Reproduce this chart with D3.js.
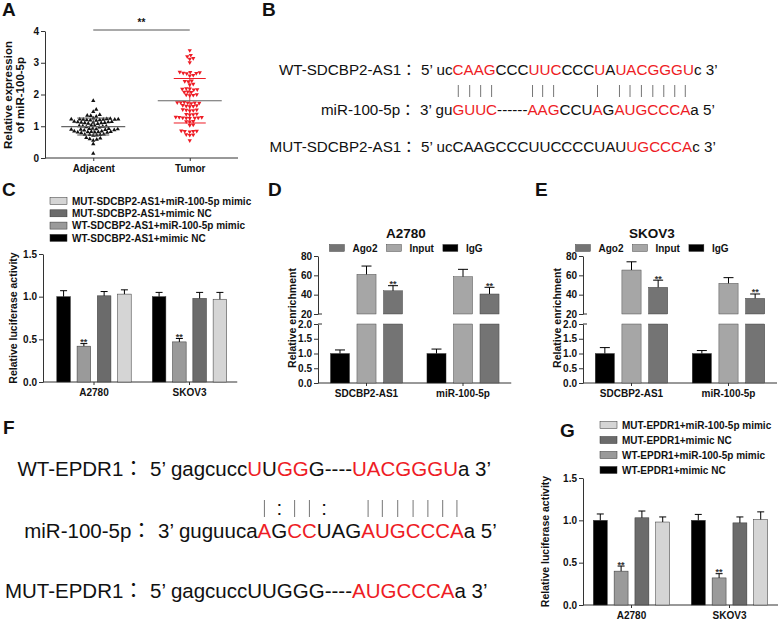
<!DOCTYPE html>
<html>
<head>
<meta charset="utf-8">
<script src="https://cdn.jsdelivr.net/npm/d3@7"></script>
<style>
  body { margin: 0; background: #fff; }
  svg { display: block; font-family: 'Liberation Sans', 'Noto Sans CJK JP', Arial, sans-serif; }
</style>
</head>
<body>
<svg id="fig" width="778" height="621"></svg>
<script>
// ---------- data ----------
const groupsA = ["Adjacent", "Tumor"];
const adjacentExpr = [1.80, 1.53, 1.46, 1.36, 1.34, 1.31, 1.33,
  1.22, 1.21, 1.23, 1.20, 1.22, 1.19, 1.21, 1.24, 1.20, 1.18, 1.22, 1.21, 1.25,
  1.13, 1.12, 1.10, 1.14, 1.11, 1.09, 1.12, 1.13, 1.10, 1.08, 1.15,
  1.02, 1.00, 0.99, 1.01, 1.03, 0.98, 1.00, 0.97,
  0.92, 0.90, 0.91, 0.89, 0.93, 0.88, 0.90, 0.92, 0.91, 0.87,
  0.83, 0.82, 0.81, 0.84, 0.80, 0.83, 0.79, 0.82, 0.81, 0.84,
  0.74, 0.73, 0.72, 0.75, 0.71, 0.73,
  0.64, 0.62, 0.60, 0.58,
  0.55, 0.44, 0.14];
const tumorExpr = [3.39, 3.24, 3.20, 3.14, 3.12, 3.01,
  2.70, 2.68, 2.69, 2.66, 2.71, 2.67,
  2.61, 2.59,
  2.43, 2.41, 2.42,
  2.33, 2.31,
  2.18, 2.16, 2.17, 2.19, 2.15,
  2.09, 2.07, 2.08,
  1.99, 1.97, 1.98, 2.00,
  1.75, 1.74, 1.73, 1.76, 1.74, 1.72, 1.75,
  1.65, 1.63, 1.64, 1.66, 1.62,
  1.52, 1.50, 1.51, 1.53, 1.49,
  1.39, 1.37, 1.38, 1.36,
  1.28, 1.27, 1.26, 1.29, 1.27, 1.25, 1.28, 1.26,
  1.16, 1.14, 1.15,
  1.05, 1.03,
  0.85, 0.84, 0.83, 0.86, 0.84,
  0.74, 0.72, 0.73,
  0.55];
const ticksA = [0, 1, 2, 3, 4];

// sequences: [text, isRed]
const wtSdcbp2 = [["5’ uc", 0], ["CAAG", 1], ["CCC", 0], ["UUC", 1], ["CCC", 0], ["U", 1], ["A", 0], ["UACGGGU", 1], ["c 3’", 0]];
const mirB = [["3’ gu", 0], ["GUUC", 1], ["------", 0], ["AAG", 1], ["CCU", 0], ["A", 1], ["G", 0], ["AUGCCCA", 1], ["a 5’", 0]];
const mutSdcbp2 = [["5’ ucCAAGCCCUUCCCCUAU", 0], ["UGCCCA", 1], ["c 3’", 0]];
const pairB = "     ||||      |||   | |||||||    ";

const wtEpdr1 = [["5’ gagcucc", 0], ["U", 1], ["U", 0], ["GG", 1], ["G----", 0], ["UACGGGU", 1], ["a 3’", 0]];
const mirF = [["3’ guguuca", 0], ["A", 1], ["G", 0], ["CC", 1], ["UAG", 0], ["AUGCCCA", 1], ["a 5’", 0]];
const mutEpdr1 = [["5’ gagcuccUUGGG----", 0], ["AUGCCCA", 1], ["a 3’", 0]];
const pairF = "          |:||:  |||||||    ";

const lucCells = ["A2780", "SKOV3"];
const lucSeriesC = ["WT-SDCBP2-AS1+mimic NC", "WT-SDCBP2-AS1+miR-100-5p mimic", "MUT-SDCBP2-AS1+mimic NC", "MUT-SDCBP2-AS1+miR-100-5p mimic"];
const lucMeanC = [[1.00, 0.42, 1.01, 1.03], [1.00, 0.47, 0.98, 0.97]];
const lucErrC = [[0.07, 0.03, 0.05, 0.05], [0.05, 0.04, 0.07, 0.08]];
const lucSeriesG = ["WT-EPDR1+mimic NC", "WT-EPDR1+miR-100-5p mimic", "MUT-EPDR1+mimic NC", "MUT-EPDR1+miR-100-5p mimic"];
const lucMeanG = [[1.00, 0.40, 1.03, 0.98], [1.00, 0.32, 0.97, 1.01]];
const lucErrG = [[0.075, 0.06, 0.08, 0.06], [0.07, 0.05, 0.07, 0.09]];
const lucSig = ["", "**", "", ""];
const lucTicks = [0, 0.5, 1.0, 1.5];
const lucColors = ["#000000", "#9a9a9a", "#6b6b6b", "#d5d5d5"];

const ripTargets = ["SDCBP2-AS1", "miR-100-5p"];
const ripSeries = ["IgG", "Input", "Ago2"];
const ripMeanD = [[1.0, 61.0, 44.0], [1.0, 58.6, 40.7]];
const ripErrD = [[0.12, 8.6, 5.3], [0.15, 7.6, 6.9]];
const ripMeanE = [[1.0, 65.5, 47.6], [1.0, 51.7, 36.2]];
const ripErrE = [[0.2, 8.5, 7.4], [0.1, 5.9, 4.5]];
const ripSig = ["", "", "**"];
const ripLowTicks = [0, 0.5, 1.0, 1.5, 2.0];
const ripHighTicks = [20, 40, 60, 80];
const ripColors = ["#000000", "#a6a6a6", "#747474"];

// ---------- helpers ----------
const svg = d3.select("#fig");
const RED = "#ee1c25";
const INK = "#111";

function styleAxis(g) {
  g.select(".domain").attr("stroke", "#333");
  g.selectAll(".tick line").attr("stroke", "#333");
  g.selectAll(".tick text")
    .attr("font-family", null)
    .attr("font-size", 10)
    .attr("font-weight", "bold")
    .attr("fill", INK);
}

function panelLetter(t, x, y) {
  svg.append("text").attr("x", x).attr("y", y)
    .attr("font-size", 19).attr("font-weight", "bold").attr("fill", INK).text(t);
}

function yTitle(text, x, y) {
  svg.append("text")
    .attr("transform", `translate(${x},${y}) rotate(-90)`)
    .attr("text-anchor", "middle").attr("font-size", 10.5).attr("font-weight", "bold").attr("fill", INK)
    .text(text);
}

function errBar(g, cx, y0, y1, half) {
  g.append("line").attr("x1", cx).attr("x2", cx).attr("y1", y0).attr("y2", y1).attr("stroke", "#000");
  g.append("line").attr("x1", cx - half).attr("x2", cx + half).attr("y1", y1).attr("y2", y1).attr("stroke", "#000");
}

function stars(g, x, top, txt) {
  g.append("text").attr("x", x).attr("y", top + 1.5).attr("text-anchor", "middle")
    .attr("font-size", 9).attr("font-weight", "bold").attr("fill", "#333").text(txt);
}

// ---------- A: scatter ----------
panelLetter("A", 2, 16);
const xA = d3.scalePoint().domain(groupsA).range([45, 238]).padding(0.5);
const yA = d3.scaleLinear().domain([0, 4]).range([158, 31]);

svg.append("g").attr("transform", "translate(45,0)")
  .call(d3.axisLeft(yA).tickValues(ticksA).tickFormat(d3.format("d")).tickSize(4).tickPadding(2).tickSizeOuter(0))
  .call(styleAxis);
svg.append("g").attr("transform", "translate(0,158)")
  .call(d3.axisBottom(xA).tickSize(3).tickPadding(4).tickSizeOuter(0))
  .call(styleAxis)
  .call(g => g.select(".domain").attr("d", "M45,0H238"));

svg.append("text").attr("transform", "translate(12,95) rotate(-90)")
  .attr("text-anchor", "middle").attr("font-size", 11.5).attr("font-weight", "bold").attr("fill", INK)
  .selectAll("tspan").data(["Relative expression", "of miR-100-5p"]).join("tspan")
  .attr("x", 0).attr("dy", (d, i) => i ? 12 : 0).text(d => d);

// simple beeswarm: nearest free horizontal slot for each value
function swarm(values, y, diam) {
  const placed = [];
  values.slice().sort((a, b) => a - b).forEach(v => {
    const py = y(v);
    for (let k = 0; ; k++) {
      const off = (k % 2 ? 1 : -1) * Math.ceil(k / 2) * 0.5;
      if (!placed.some(q => Math.hypot(q.y - py, q.dx - off) < diam)) {
        placed.push({ v, y: py, dx: off });
        break;
      }
    }
  });
  return placed;
}

const tri = d3.symbol(d3.symbolTriangle, 8);
[[groupsA[0], adjacentExpr, "#111", 0, "#555"], [groupsA[1], tumorExpr, RED, 180, RED]].forEach(([grp, vals, col, rot, sdCol]) => {
  const cx = xA(grp);
  svg.append("g").selectAll("path").data(swarm(vals, yA, 3.4)).join("path")
    .attr("d", tri)
    .attr("transform", d => `translate(${cx + d.dx},${d.y}) rotate(${rot})`)
    .attr("fill", col);
  const m = d3.mean(vals), sd = d3.deviation(vals);
  const g = svg.append("g");
  g.append("line").attr("x1", cx).attr("x2", cx).attr("y1", yA(m + sd)).attr("y2", yA(m - sd)).attr("stroke", sdCol).attr("stroke-width", 0.8);
  [m + sd, m - sd].forEach(v => g.append("line").attr("x1", cx - 16).attr("x2", cx + 16)
    .attr("y1", yA(v)).attr("y2", yA(v)).attr("stroke", sdCol).attr("stroke-width", 1));
  g.append("line").attr("x1", cx - 32).attr("x2", cx + 32).attr("y1", yA(m)).attr("y2", yA(m))
    .attr("stroke", "#666").attr("stroke-width", 1.2);
});
svg.append("line").attr("x1", xA(groupsA[0])).attr("x2", xA(groupsA[1])).attr("y1", 30).attr("y2", 30).attr("stroke", "#555");
svg.append("text").attr("x", (xA(groupsA[0]) + xA(groupsA[1])) / 2).attr("y", 26)
  .attr("text-anchor", "middle").attr("font-size", 10).attr("font-weight", "bold").attr("fill", INK).text("**");

// ---------- sequence panels ----------
function seqLine(label, segs, x, y, size) {
  svg.append("text").attr("x", x - size * 0.3).attr("y", y).attr("text-anchor", "end")
    .attr("font-size", size).attr("fill", INK).text(label + "：");
  const t = svg.append("text").attr("x", x).attr("y", y).attr("font-size", size).style("white-space", "pre");
  t.selectAll("tspan").data(segs).join("tspan").attr("fill", d => d[1] ? RED : INK).text(d => d[0]);
  return t.node();
}
function pairMarks(node, pairs, y1, y2, size) {
  pairs.split("").forEach((c, i) => {
    if (c === " ") return;
    const e = node.getExtentOfChar(i);
    const cx = e.x + e.width / 2;
    if (c === "|") {
      svg.append("line").attr("x1", cx).attr("x2", cx).attr("y1", y1).attr("y2", y2).attr("stroke", "#666").attr("stroke-width", 0.9);
    } else {
      svg.append("text").attr("x", cx).attr("y", (y1 + y2) / 2 + size * 0.3).attr("text-anchor", "middle")
        .attr("font-size", size).attr("fill", INK).text(":");
    }
  });
}

panelLetter("B", 262, 16);
seqLine("WT-SDCBP2-AS1", wtSdcbp2, 421, 75, 15.2);
const mirBNode = seqLine("miR-100-5p", mirB, 420, 115, 15.2);
seqLine("MUT-SDCBP2-AS1", mutSdcbp2, 421, 152, 15.2);
pairMarks(mirBNode, pairB, 85, 97, 15.2);

panelLetter("F", 3, 434);
seqLine("WT-EPDR1", wtEpdr1, 150, 476, 20.5);
const mirFNode = seqLine("miR-100-5p", mirF, 158, 538, 20.5);
seqLine("MUT-EPDR1", mutEpdr1, 150, 598, 20.5);
pairMarks(mirFNode, pairF, 500, 517, 20.5);

// ---------- luciferase bar panels (C, G) ----------
function lucPanel(o) {
  const g = svg.append("g");
  const x = d3.scaleBand().domain(lucCells).range(o.xr);
  const xi = d3.scaleBand().domain(d3.range(o.series.length)).range([0, x.bandwidth()]).paddingInner(0.33).paddingOuter(0.52);
  const y = d3.scaleLinear().domain([0, 1.5]).range(o.yr);

  g.append("g").attr("transform", `translate(${o.axisX},0)`)
    .call(d3.axisLeft(y).tickValues(lucTicks).tickFormat(d3.format(".1f")).tickSize(4).tickPadding(2).tickSizeOuter(0))
    .call(styleAxis);
  g.append("g").attr("transform", `translate(0,${o.yr[0]})`)
    .call(d3.axisBottom(x).tickSize(3).tickPadding(4).tickSizeOuter(0))
    .call(styleAxis)
    .call(a => a.select(".domain").attr("d", `M${o.axisX},0H${o.xr[1]}`));
  yTitle("Relative luciferase activity", o.titleX, (o.yr[0] + o.yr[1]) / 2);

  lucCells.forEach((cell, ci) => {
    o.series.forEach((s, si) => {
      const bx = x(cell) + xi(si), w = xi.bandwidth(), v = o.mean[ci][si];
      g.append("rect").attr("x", bx).attr("y", y(v)).attr("width", w).attr("height", y(0) - y(v))
        .attr("fill", lucColors[si]).attr("stroke", "#333").attr("stroke-width", 0.5);
      const top = y(v + o.err[ci][si]);
      errBar(g, bx + w / 2, y(v), top, 3.5);
      if (lucSig[si]) stars(g, bx + w / 2, top, lucSig[si]);
    });
  });

  const leg = g.append("g");
  o.series.slice().reverse().forEach((s, k) => {
    const si = o.series.length - 1 - k, cy = o.legY[0] + k * o.legY[1];
    leg.append("rect").attr("x", o.legX).attr("y", cy - 3.5).attr("width", 17).attr("height", 7)
      .attr("fill", lucColors[si]).attr("stroke", "#333").attr("stroke-width", 0.5);
    leg.append("text").attr("x", o.legX + 22).attr("y", cy + 3.6).attr("font-size", 10).attr("font-weight", "bold")
      .attr("fill", INK).text(s);
  });
}

panelLetter("C", 2, 196);
lucPanel({ series: lucSeriesC, mean: lucMeanC, err: lucErrC, xr: [46.25, 237.25], axisX: 43, yr: [382, 254], titleX: 17, legX: 50, legY: [201, 12.3] });
panelLetter("G", 560, 437);
lucPanel({ series: lucSeriesG, mean: lucMeanG, err: lucErrG, xr: [582.5, 778.5], axisX: 583, yr: [605, 478], titleX: 549, legX: 600, legY: [425, 15] });

// ---------- RIP panels (D, E) with broken y axis ----------
function ripPanel(o) {
  const g = svg.append("g");
  const x = d3.scaleBand().domain(ripTargets).range(o.xr);
  const xi = d3.scaleBand().domain(d3.range(ripSeries.length)).range([0, x.bandwidth()]).paddingInner(0.28).paddingOuter(0.46);
  const yLow = d3.scaleLinear().domain([0, 2]).range([383, 324]);
  const yHigh = d3.scaleLinear().domain([20, 80]).range([314, 256]);

  g.append("g").attr("transform", `translate(${o.axisX},0)`)
    .call(d3.axisLeft(yLow).tickValues(ripLowTicks).tickFormat(d3.format(".1f")).tickSize(4).tickPadding(2).tickSizeOuter(0))
    .call(styleAxis);
  g.append("g").attr("transform", `translate(${o.axisX},0)`)
    .call(d3.axisLeft(yHigh).tickValues(ripHighTicks).tickFormat(d3.format("d")).tickSize(4).tickPadding(2).tickSizeOuter(0))
    .call(styleAxis);
  [yLow(2), yHigh(20)].forEach(py => g.append("line").attr("x1", o.axisX).attr("x2", o.axisX + 4)
    .attr("y1", py).attr("y2", py).attr("stroke", "#333"));
  g.append("g").attr("transform", "translate(0,383)")
    .call(d3.axisBottom(x).tickSize(3).tickPadding(4).tickSizeOuter(0))
    .call(styleAxis)
    .call(a => a.select(".domain").attr("d", `M${o.axisX},0H${o.xr[1]}`));
  yTitle("Relative enrichment", o.titleX, 318);

  ripTargets.forEach((t, ti) => {
    ripSeries.forEach((s, si) => {
      const bx = x(t) + xi(si), w = xi.bandwidth(), v = o.mean[ti][si], e = o.err[ti][si];
      const yTop = v <= 2 ? yLow(v) : yLow(2);
      g.append("rect").attr("x", bx).attr("y", yTop).attr("width", w).attr("height", yLow(0) - yTop)
        .attr("fill", ripColors[si]).attr("stroke", "#333").attr("stroke-width", 0.4);
      let top;
      if (v > 2) {
        g.append("rect").attr("x", bx).attr("y", yHigh(v)).attr("width", w).attr("height", yHigh(20) - yHigh(v))
          .attr("fill", ripColors[si]).attr("stroke", "#333").attr("stroke-width", 0.4);
        top = yHigh(v + e);
        errBar(g, bx + w / 2, yHigh(v), top, 5);
      } else {
        top = yLow(v + e);
        errBar(g, bx + w / 2, yLow(v), top, 5);
      }
      if (ripSig[si]) stars(g, bx + w / 2, top, ripSig[si]);
    });
  });

  g.append("text").attr("x", o.cx).attr("y", 238).attr("text-anchor", "middle")
    .attr("font-size", 13.5).attr("font-weight", "bold").attr("fill", INK).text(o.title);

  // legend: Ago2, Input, IgG, centred on the title
  const leg = g.append("g");
  let lx = 0;
  [2, 1, 0].forEach(si => {
    leg.append("rect").attr("x", lx).attr("y", -3.5).attr("width", 15).attr("height", 7)
      .attr("fill", ripColors[si]).attr("stroke", "#333").attr("stroke-width", 0.4);
    const tx = leg.append("text").attr("x", lx + 23).attr("y", 3.6).attr("font-size", 10).attr("font-weight", "bold")
      .attr("fill", INK).text(ripSeries[si]);
    lx += 23 + tx.node().getComputedTextLength() + 9;
  });
  leg.attr("transform", `translate(${o.cx - (lx - 9) / 2},248)`);
}

panelLetter("D", 268, 196);
ripPanel({ title: "A2780", mean: ripMeanD, err: ripErrD, xr: [318.25, 511.25], axisX: 318, titleX: 296, cx: 406 });
panelLetter("E", 535, 196);
ripPanel({ title: "SKOV3", mean: ripMeanE, err: ripErrE, xr: [583, 777], axisX: 583, titleX: 561, cx: 652 });
</script>
</body>
</html>
